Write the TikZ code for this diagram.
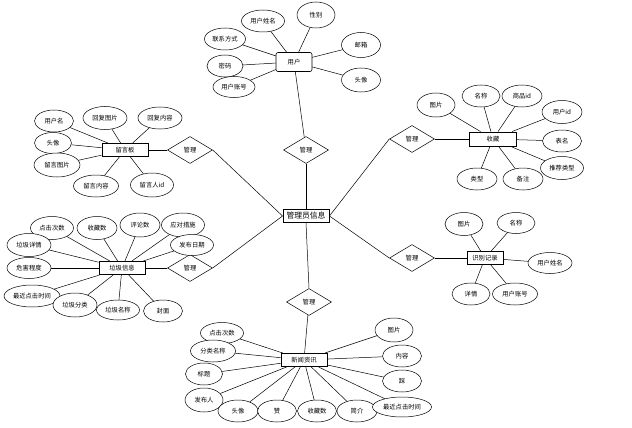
\documentclass[tikz,border=0pt]{standalone}
\usepackage{fontspec}
\setmainfont{Noto Sans CJK SC}
\usetikzlibrary{shapes.geometric}
\tikzset{
  attr/.style={ellipse,draw=black,fill=white,line width=0.5pt,inner sep=0pt,
    minimum width=40pt,minimum height=22pt,font=\fontsize{6.3pt}{7pt}\selectfont},
  ent/.style={rectangle,draw=black,fill=white,line width=0.9pt,inner sep=0pt,
    minimum width=46pt,minimum height=13pt,font=\fontsize{6.3pt}{7pt}\selectfont},
  rel/.style={diamond,draw=black,fill=white,line width=0.5pt,inner sep=0pt,aspect=1.7,
    minimum width=45pt,minimum height=27pt,font=\fontsize{6.3pt}{7pt}\selectfont},
  lk/.style={draw=black,line width=0.5pt}
}
\begin{document}
\begin{tikzpicture}[x=1pt,y=-1pt]
\useasboundingbox[fill=white] (0,0) rectangle (632,428);
% central
\node[ent,minimum width=46pt,minimum height=13pt,font=\fontsize{7.8pt}{9pt}\selectfont] (mgr) at (306,216) {管理员信息};
% relations
\node[rel] (d1) at (190,150) {管理};
\node[rel] (d2) at (306,150) {管理};
\node[rel] (d3) at (412,139) {管理};
\node[rel] (d4) at (190,268) {管理};
\node[rel] (d5) at (412,258) {管理};
\node[rel] (d6) at (309,302) {管理};
% entities
\node[ent,rounded corners=2pt,line width=0.6pt,minimum width=36pt,minimum height=19pt] (yh) at (294,62) {用户};
\node[ent] (lyb) at (125,150) {留言板};
\node[ent,minimum width=47pt,minimum height=14pt] (sc) at (493,139) {收藏};
\node[ent] (ljxx) at (122,268) {垃圾信息};
\node[ent,minimum width=36pt,minimum height=13pt] (sbjl) at (485,258) {识别记录};
\node[ent] (xwzx) at (304,360) {新闻资讯};
% central links
\draw[lk] (d1.east) -- (mgr.west);
\draw[lk] (d4.east) -- (mgr.west);
\draw[lk] (d3.west) -- (mgr.east);
\draw[lk] (d5.west) -- (mgr.east);
\draw[lk] (d2.south) -- (mgr.north);
\draw[lk] (d6.north) -- (mgr.south);
\draw[lk] (d1) -- (lyb);
\draw[lk] (d2) -- (yh);
\draw[lk] (d3) -- (sc);
\draw[lk] (d4) -- (ljxx);
\draw[lk] (d5) -- (sbjl);
\draw[lk] (d6) -- (xwzx);
% user attributes
\node[attr,minimum width=43pt] (u1) at (263,21) {用户姓名};
\node[attr,minimum width=38pt,minimum height=26pt] (u2) at (316,15) {性别};
\node[attr,minimum width=41pt] (u3) at (225,39) {联系方式};
\node[attr,minimum width=36pt] (u4) at (225,66) {密码};
\node[attr,minimum width=42pt,minimum height=21pt] (u5) at (234,87) {用户账号};
\node[attr,minimum width=39pt,minimum height=25pt] (u6) at (361,45) {邮箱};
\node[attr,minimum width=39pt,minimum height=24pt] (u7) at (361,80) {头像};
\foreach \n in {u1,u2,u3,u4,u5,u6,u7} \draw[lk] (\n) -- (yh);
% message board attributes
\node[attr,minimum width=39pt] (l1) at (54,121) {用户名};
\node[attr,minimum width=44pt,minimum height=23pt] (l2) at (105,118) {回复图片};
\node[attr,minimum width=44pt] (l3) at (160,118) {回复内容};
\node[attr,minimum width=37pt,minimum height=21pt] (l4) at (53,143) {头像};
\node[attr,minimum width=46pt,minimum height=24pt] (l5) at (57,165) {留言图片};
\node[attr,minimum width=45pt] (l6) at (96,186) {留言内容};
\node[attr,minimum width=43pt,minimum height=24pt] (l7) at (152,185) {留言人id};
\foreach \n in {l1,l2,l3,l4,l5,l6,l7} \draw[lk] (\n) -- (lyb);
% favourites attributes
\node[attr,minimum width=38pt,minimum height=24pt] (s1) at (436,105) {图片};
\node[attr,minimum width=38pt] (s2) at (481,96) {名称};
\node[attr] (s3) at (522,96) {商品id};
\node[attr,minimum height=23pt] (s4) at (562,112) {用户id};
\node[attr,minimum width=39pt] (s5) at (562,141) {表名};
\node[attr,minimum width=43pt,minimum height=23pt] (s6) at (562,168) {推荐类型};
\node[attr] (s7) at (477,179) {类型};
\node[attr] (s8) at (523,179) {备注};
\foreach \n in {s1,s2,s3,s4,s5,s6,s7,s8} \draw[lk] (\n) -- (sc);
% garbage info attributes
\node[attr,minimum width=43pt,minimum height=23pt] (g1) at (52,228) {点击次数};
\node[attr,minimum height=23pt] (g2) at (97,228) {收藏数};
\node[attr,minimum height=24pt] (g3) at (140,225) {评论数};
\node[attr,minimum width=43pt,minimum height=24pt] (g4) at (183,225) {应对措施};
\node[attr,minimum width=43pt,minimum height=21pt] (g5) at (192,245) {发布日期};
\node[attr,minimum width=44pt,minimum height=23pt] (g6) at (29,245) {垃圾详情};
\node[attr,minimum width=44pt,minimum height=21pt] (g7) at (29,268) {危害程度};
\node[attr,minimum width=56pt] (g8) at (32,296) {最近点击时间};
\node[attr,minimum width=44pt,minimum height=24pt] (g9) at (75,305) {垃圾分类};
\node[attr,minimum width=43pt,minimum height=20pt] (g10) at (118,310) {垃圾名称};
\node[attr,minimum width=39pt] (g11) at (163,311) {封面};
\foreach \n in {g1,g2,g3,g4,g5,g6,g7,g8,g9,g10,g11} \draw[lk] (\n) -- (ljxx);
% recognition attributes
\node[attr,minimum width=38pt,minimum height=23pt] (r1) at (464,224) {图片};
\node[attr,minimum width=38pt,minimum height=21pt] (r2) at (516,223) {名称};
\node[attr,minimum width=44pt,minimum height=21pt] (r3) at (550,263) {用户姓名};
\node[attr,minimum width=38pt] (r4) at (471,294) {详情};
\node[attr,minimum width=45pt] (r5) at (515,294) {用户账号};
\foreach \n in {r1,r2,r3,r4,r5} \draw[lk] (\n) -- (sbjl);
% news attributes
\node[attr,minimum width=43pt,minimum height=21pt] (n1) at (222,333) {点击次数};
\node[attr,minimum width=45pt] (n2) at (213,351) {分类名称};
\node[attr,minimum width=37pt] (n3) at (204,374) {标题};
\node[attr,minimum width=38pt,minimum height=24pt] (n4) at (204,400) {发布人};
\node[attr] (n5) at (238,411) {头像};
\node[attr,minimum width=39pt] (n6) at (277,411) {赞};
\node[attr,minimum width=39pt] (n7) at (317,411) {收藏数};
\node[attr] (n8) at (357,411) {简介};
\node[attr,minimum width=59pt,minimum height=20pt] (n9) at (402,407) {最近点击时间};
\node[attr,minimum width=38pt,minimum height=24pt] (n10) at (394,330) {图片};
\node[attr,minimum width=39pt] (n11) at (402,356) {内容};
\node[attr,minimum width=39pt] (n12) at (402,381) {踩};
\foreach \n in {n1,n2,n3,n4,n5,n6,n7,n8,n9,n10,n11,n12} \draw[lk] (\n) -- (xwzx);
\end{tikzpicture}
\end{document}
